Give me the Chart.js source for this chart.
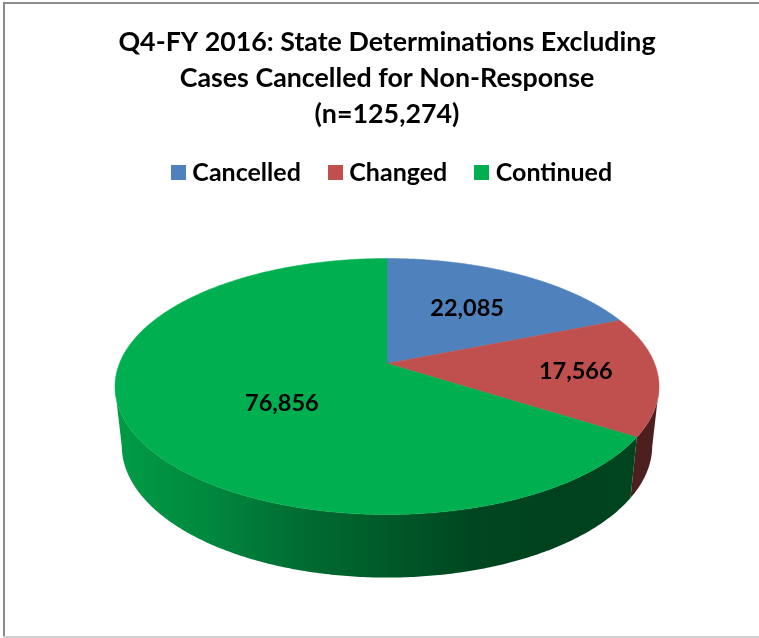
<!DOCTYPE html>
<html>
<head>
<meta charset="utf-8">
<style>
  html, body { margin: 0; padding: 0; background: #fff; }
  canvas { display: block; }
</style>
<script src="https://cdn.jsdelivr.net/npm/chart.js@4/dist/chart.umd.js"></script>
</head>
<body>
<canvas id="chart" width="759" height="638"></canvas>
<script>
const titleLines = ['Q4-FY 2016: State Determinations Excluding', 'Cases Cancelled for Non-Response', '(n=125,274)']
const categories = ['Cancelled', 'Changed', 'Continued']
const values = [22085, 17566, 76856]
const sliceColors = [[79, 129, 189], [192, 80, 77], [0, 176, 80]]

// disc shape, in px: the pie is tipped back, so its centre sits above the middle of the ellipse
const rimX = 267.6
const rimY = 123.9
const tip = 0.1797
const wallDepth = 58.5
const wallShrinkX = 0.975
const wallStretchY = 1.03
// wall shading from left to right, as a share of the slice colour
const wallShade = [0.88, 0.77, 0.62, 0.51, 0.4, 0.37, 0.4]
// label spots: share of the radius and turn away from the slice middle (radians)
const labelRadius = [0.58, 0.7, 0.48]
const labelTurn = [0, 0, -0.185]
const legendShift = 7.5

const rgb = (c, k = 1) => `rgb(${c.map((n) => Math.round(n * k)).join(',')})`

function project(angle, r = 1) {
  const u = r * Math.cos(angle)
  const v = -r * Math.sin(angle)
  const d = 1 + tip * v
  return { x: (rimX * u) / d, y: (-rimY * v) / d }
}

function angleSteps(arc) {
  const steps = Math.max(2, Math.ceil((arc.endAngle - arc.startAngle) / 0.01))
  const list = []
  for (let i = 0; i <= steps; i++) {
    list.push(arc.startAngle + ((arc.endAngle - arc.startAngle) * i) / steps)
  }
  return list
}

const tiltedPie = {
  id: 'tiltedPie',
  afterLayout(chart) {
    chart.legend.left += legendShift
    chart.legend.right += legendShift
  },
  beforeDatasetDraw(chart) {
    const { ctx } = chart
    const arcs = chart.getDatasetMeta(0).data

    arcs.forEach((arc, index) => {
      // only the part of the rim that faces the viewer gets a wall
      const steps = angleSteps(arc).filter((a) => Math.sin(a) >= tip)
      if (steps.length < 2) return
      const gradient = ctx.createLinearGradient(arc.x - rimX, 0, arc.x + rimX, 0)
      wallShade.forEach((k, i) => {
        gradient.addColorStop(i / (wallShade.length - 1), rgb(sliceColors[index], k))
      })
      ctx.beginPath()
      steps.forEach((a) => {
        const p = project(a)
        ctx.lineTo(arc.x + p.x, arc.y + p.y)
      })
      steps.reverse().forEach((a) => {
        const p = project(a)
        ctx.lineTo(arc.x + p.x * wallShrinkX, arc.y + wallDepth + p.y * wallStretchY)
      })
      ctx.closePath()
      ctx.fillStyle = gradient
      ctx.fill()
    })

    arcs.forEach((arc, index) => {
      ctx.beginPath()
      ctx.moveTo(arc.x, arc.y)
      angleSteps(arc).forEach((a) => {
        const p = project(a)
        ctx.lineTo(arc.x + p.x, arc.y + p.y)
      })
      ctx.closePath()
      ctx.fillStyle = rgb(sliceColors[index])
      ctx.strokeStyle = rgb(sliceColors[index])
      ctx.lineWidth = 0.5
      ctx.fill()
      ctx.stroke()
    })

    ctx.fillStyle = '#000'
    ctx.font = '700 23.5px Lato'
    ctx.textAlign = 'center'
    ctx.textBaseline = 'middle'
    arcs.forEach((arc, index) => {
      const mid = (arc.startAngle + arc.endAngle) / 2 + labelTurn[index]
      const p = project(mid, labelRadius[index])
      ctx.fillText(values[index].toLocaleString('en-US'), arc.x + p.x, arc.y + p.y)
    })
    return false
  },
}

const frame = {
  id: 'frame',
  beforeDraw(chart) {
    const { ctx, width, height } = chart
    ctx.save()
    ctx.fillStyle = '#fff'
    ctx.fillRect(0, 0, width, height)
    ctx.fillStyle = '#8c8c8c'
    ctx.fillRect(3, 2, 2, height - 4)
    ctx.fillRect(3, 2, width - 3, 2)
    ctx.fillStyle = '#d0d0d0'
    ctx.fillRect(3, height - 2, width - 3, 2)
    ctx.restore()
  },
}

// the legend leaves font/2 between box and text, so hang a wider marker off a narrow box
function marker(color) {
  const c = document.createElement('canvas')
  c.width = 15
  c.height = 15
  const g = c.getContext('2d')
  g.fillStyle = color
  g.fillRect(0, 0, 15, 15)
  return c
}

new Chart(document.getElementById('chart'), {
  type: 'pie',
  data: {
    labels: categories,
    datasets: [{ data: values, backgroundColor: sliceColors.map((c) => rgb(c)), borderWidth: 0 }],
  },
  plugins: [frame, tiltedPie],
  options: {
    responsive: false,
    animation: false,
    layout: { padding: { left: 15, bottom: 106 } },
    plugins: {
      tooltip: { enabled: false },
      title: {
        display: true,
        text: titleLines,
        color: '#000',
        font: { family: 'Lato', weight: '700', size: 26.8, lineHeight: 36 / 26.8 },
        padding: { top: 24, bottom: -5 },
      },
      legend: {
        position: 'top',
        labels: {
          color: '#000',
          font: { family: 'Lato', weight: '700', size: 25 },
          padding: 33,
          usePointStyle: true,
          pointStyleWidth: 3,
          generateLabels: (chart) =>
            chart.data.labels.map((text, index) => ({
              text,
              fontColor: '#000',
              pointStyle: marker(rgb(sliceColors[index])),
              index,
            })),
        },
      },
    },
  },
})
</script>
</body>
</html>
